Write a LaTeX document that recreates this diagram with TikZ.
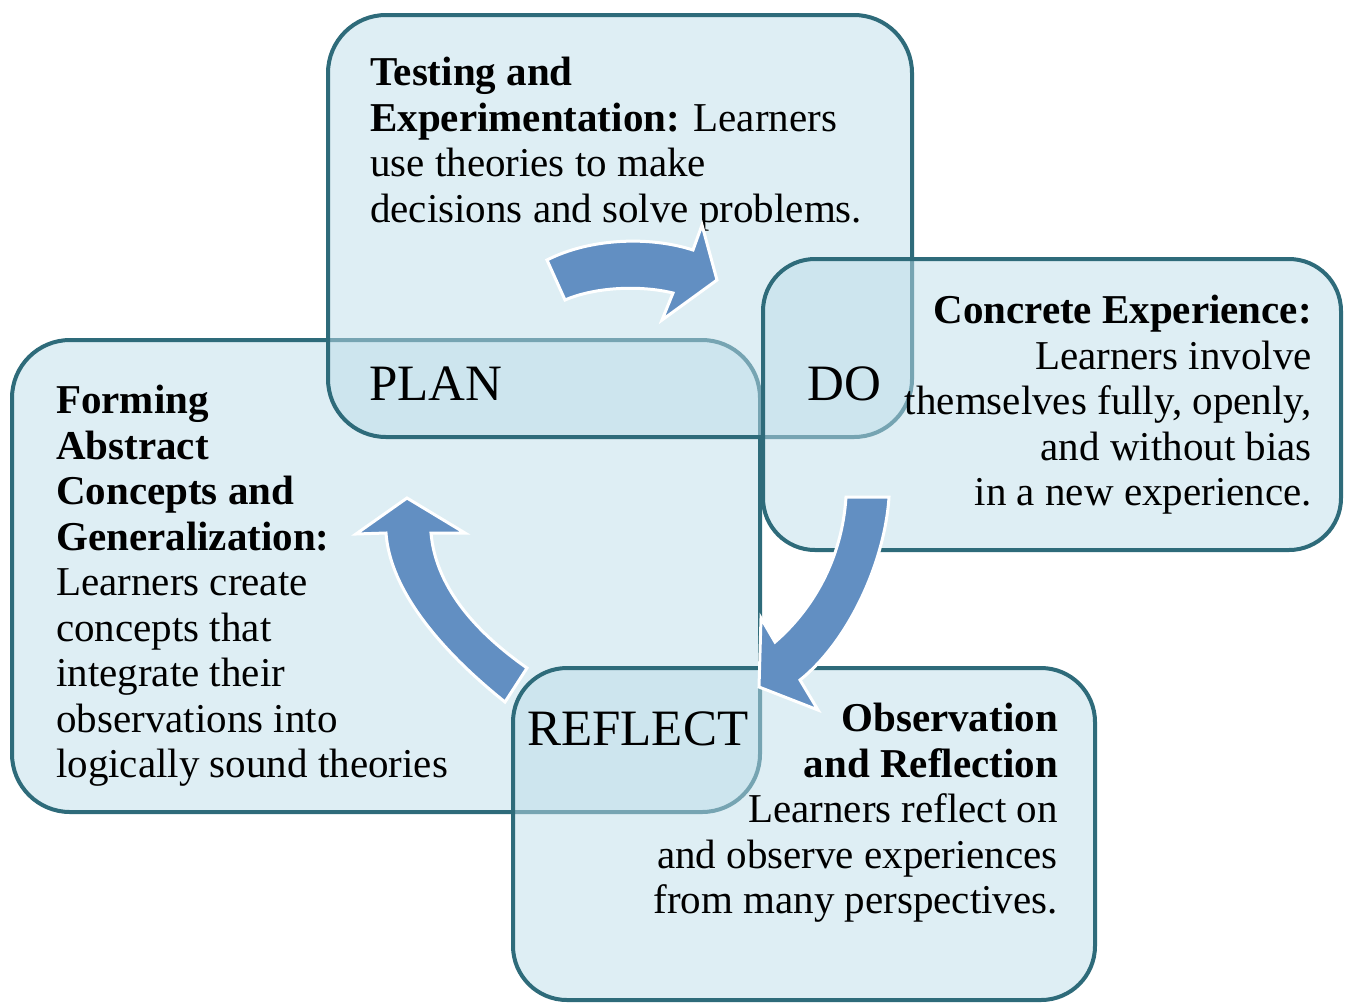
\documentclass[tikz,border=0pt]{standalone}
\usepackage{fontspec}
\setmainfont{Liberation Serif}
\usetikzlibrary{positioning}

\definecolor{boxfill}{RGB}{190,222,234}
\definecolor{boxline}{RGB}{46,107,122}
\definecolor{turnblue}{RGB}{98,143,194}

\begin{document}
\begin{tikzpicture}[x=1pt, y=-1pt,
  phase/.style = {
    rectangle, draw=boxline, line width=4pt, fill=boxfill,
    fill opacity=0.5, draw opacity=1, rounded corners=58pt, inner sep=0pt
  },
  stage/.style = {inner sep=0pt, font=\fontsize{51}{57}\selectfont},
  desc/.style = {inner sep=0pt, font=\fontsize{41}{45.5}\selectfont},
  turn/.style = {fill=turnblue, draw=white, line width=3pt, line join=miter}
]

  \useasboundingbox (0,0) rectangle (1346,1005);
  \fill[white] (0,0) rectangle (1346,1005);

  % the four phase boxes, later ones lie over the earlier ones
  \node[phase, minimum width=748pt, minimum height=472pt] (formbox) at (386,576) {};
  \node[phase, minimum width=584pt, minimum height=422pt] (testbox) at (620,226) {};
  \node[phase, minimum width=578pt, minimum height=291pt, rounded corners=52pt] (concbox) at (1052,404.5) {};
  \node[phase, minimum width=582pt, minimum height=332pt, rounded corners=54pt] (obsbox) at (804,834) {};

  % stage names in the overlaps
  \node[stage, anchor=base west] (plan) at (369,400) {PLAN};
  \node[stage, anchor=base west] (do) at (807,400) {DO};
  \node[stage, anchor=base west] (reflect) at (527,745) {REFLECT};

  % descriptions
  \node[desc, anchor=north west, align=left] (testtxt) at (370,57)
    {\textbf{Testing and}\\\textbf{Experimentation:} Learners\\use theories to make\\decisions and solve problems.};
  \node[desc, anchor=north east, align=right] (conctxt) at (1312,295)
    {\textbf{Concrete Experience:}\\Learners involve\\themselves fully, openly,\\and without bias\\in a new experience.};
  \node[desc, anchor=north west, align=left] (formtxt) at (56,385)
    {\textbf{Forming}\\\textbf{Abstract}\\\textbf{Concepts and}\\\textbf{Generalization:}\\Learners create\\concepts that\\integrate their\\observations into\\logically sound theories};
  \node[desc, anchor=north east, align=right] (obstxt) at (1058,703)
    {\textbf{Observation}\\\textbf{and Reflection}\\Learners reflect on\\and observe experiences\\from many perspectives.};

  % curved arrows of the cycle
  \path[turn] (547,260) .. controls (590,238) and (650,236) .. (693,250)
    -- (702,225) -- (717,280) -- (662,320) -- (673,293)
    .. controls (640,285) and (595,287) .. (565,300) -- cycle;
  \path[turn] (846,497) -- (889,497) .. controls (885,560) and (850,640) .. (800,680)
    -- (818,710) -- (759,687) -- (761,618) -- (775,642)
    .. controls (812,610) and (842,560) .. (846,497) -- cycle;
  \path[turn] (505,702) .. controls (440,650) and (390,590) .. (386,533)
    -- (356,534) -- (407,498) -- (465,533) -- (431,533)
    .. controls (436,590) and (480,635) .. (527,668) -- cycle;

\end{tikzpicture}
\end{document}
